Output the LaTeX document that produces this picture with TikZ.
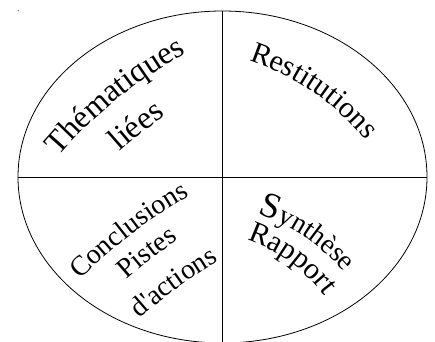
\documentclass[tikz,border=0pt]{standalone}
\usepackage{fontspec}
\setmainfont{Liberation Serif}[Ligatures=TeXOff]
\usetikzlibrary{shapes.geometric,decorations.text,calc}
\newcommand\fA{\fontsize{30}{36}\selectfont}
\newcommand\fT{\fontsize{32}{38}\selectfont}
\newcommand\fB{\fontsize{28}{34}\selectfont}
\newcommand\fS{\fontsize{36}{40}\selectfont}
% #1 x, #2 y of mid baseline, #3 reading angle, #4 radius, #5 font, #6 text
\newcommand\arcline[6]{%
  \path[decorate, decoration={text along path, text align=center, text={|#5|#6}}]
    ($(#1,#2)+(#3-90:#4)+(#3+150:#4)$) arc[start angle=#3+150, end angle=#3+30, radius=#4];
}
\begin{document}
\begin{tikzpicture}[x=1pt,y=1pt,
  shape line/.style={draw=black, line width=0.8pt}]
\useasboundingbox (0,0) rectangle (435,341);
\clip (0,0) rectangle (435,341);
\fill[gray] (18.3,330.3) circle (0.7);
\node[ellipse, shape line, minimum width=409pt, minimum height=332pt, inner sep=0pt] (e) at (222.5,164) {};
\draw[shape line] (e.north) -- (e.south);
\draw[shape line] (e.west) -- (e.east);
\arcline{118}{242}{39}{450}{\fT}{Thématiques}
\arcline{142}{208}{38}{450}{\fT}{liées}
\arcline{313}{249}{-34.5}{250}{\fA}{Restitutions}
\arcline{132}{107}{37.5}{500}{\fB}{Conclusions}
\arcline{152}{82}{38}{500}{\fB}{Pistes}
\arcline{178}{53}{36}{500}{\fB}{d'actions}
\arcline{305}{104}{-34}{190}{\fS}{S|\fB|ynthèse}
\arcline{290}{79}{-36}{160}{\fA}{Rapport}
\end{tikzpicture}
\end{document}
